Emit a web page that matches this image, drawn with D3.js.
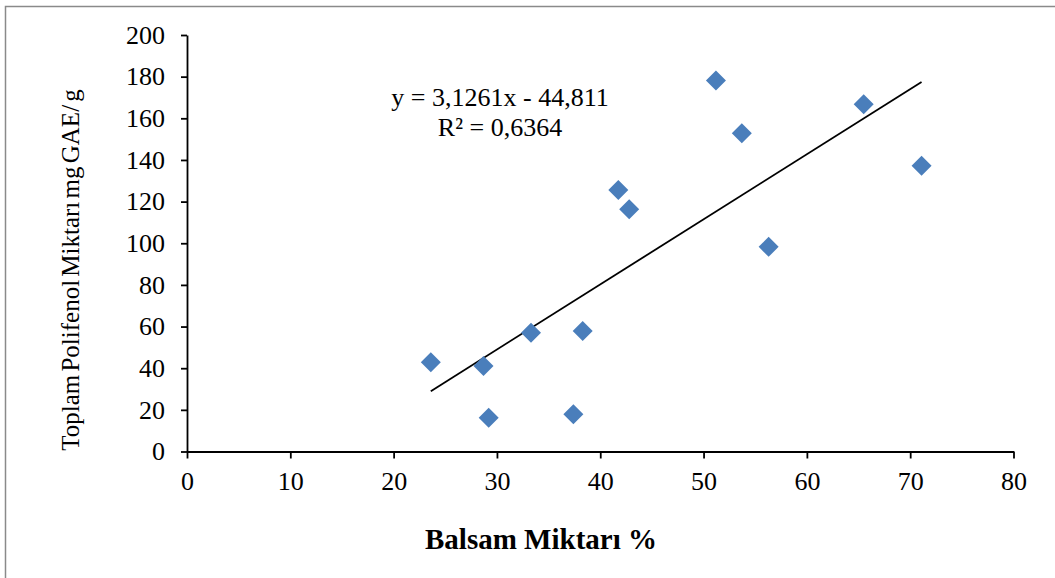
<!DOCTYPE html>
<html>
<head>
<meta charset="utf-8">
<script src="https://cdn.jsdelivr.net/npm/d3@7/dist/d3.min.js"></script>
<style>
  html, body { margin: 0; padding: 0; background: #fff; }
  svg { display: block; font-family: "Liberation Serif", "Times New Roman", serif; }
</style>
</head>
<body>
<svg id="chart" width="1055" height="578"></svg>
<script>
// Balsam amount (%) against total polyphenol content (mg GAE/g)
const balsam = [23.6, 28.7, 29.2, 33.3, 37.4, 38.3, 41.75, 42.8, 51.2, 53.7, 56.3, 65.5, 71.1];
const polifenol = [42.8, 41.1, 16.2, 57.0, 17.9, 57.9, 125.6, 116.3, 178.1, 152.8, 98.3, 166.7, 137.2];

// Linear trend reported on the chart
const slope = 3.1261;
const intercept = -44.811;
const equationLines = ["y = 3,1261x - 44,811", "R² = 0,6364"];

const xTicks = [0, 10, 20, 30, 40, 50, 60, 70, 80];
const yTicks = [0, 20, 40, 60, 80, 100, 120, 140, 160, 180, 200];

const xTitle = "Balsam Miktarı %";
const yTitle = "Toplam Polifenol Miktarı mg GAE/ g";

const svg = d3.select("#chart");

// Chart area frame
svg.append("rect")
  .attr("x", 5.5).attr("y", 6.5)
  .attr("width", 1200).attr("height", 800)
  .attr("fill", "none")
  .attr("stroke", "#8a8a8a")
  .attr("stroke-width", 1.5);

const x = d3.scaleLinear().domain([0, 80]).range([187, 1013.5]);
const y = d3.scaleLinear().domain([0, 200]).range([451.5, 35]);

// Axes
const xAxis = svg.append("g")
  .attr("transform", `translate(0,${y(0)})`)
  .call(d3.axisBottom(x).tickValues(xTicks).tickSize(7).tickSizeOuter(0).tickPadding(12));

const yAxis = svg.append("g")
  .attr("transform", `translate(${x(0)},0)`)
  .call(d3.axisLeft(y).tickValues(yTicks).tickSize(6).tickSizeOuter(0).tickPadding(16));

[xAxis, yAxis].forEach(g => {
  g.selectAll(".domain, .tick line").attr("stroke", "#000").attr("stroke-width", 1.8);
  g.selectAll(".tick text")
    .attr("fill", "#000")
    .style("font-family", '"Liberation Serif", "Times New Roman", serif')
    .style("font-size", "26px");
});
xAxis.selectAll(".tick text").attr("dy", "0.75em");

// Trend line across the range of the data
const xMin = d3.min(balsam), xMax = d3.max(balsam);
svg.append("line")
  .attr("x1", x(xMin)).attr("y1", y(slope * xMin + intercept))
  .attr("x2", x(xMax)).attr("y2", y(slope * xMax + intercept))
  .attr("stroke", "#000")
  .attr("stroke-width", 1.8);

// Diamond markers
const diamond = d3.symbol().type(d3.symbolSquare).size(200);
svg.append("g").selectAll("path")
  .data(balsam.map((v, i) => [v, polifenol[i]]))
  .join("path")
  .attr("d", diamond)
  .attr("transform", d => `translate(${x(d[0])},${y(d[1])}) rotate(45)`)
  .attr("fill", "#4a7ebb");

// Regression equation
svg.append("g").selectAll("text")
  .data(equationLines)
  .join("text")
  .attr("x", 500)
  .attr("y", (d, i) => 106 + i * 30)
  .attr("text-anchor", "middle")
  .style("font-size", "26px")
  .attr("fill", "#000")
  .text(d => d);

// Axis titles
svg.append("text")
  .attr("x", 541).attr("y", 549)
  .attr("text-anchor", "middle")
  .style("font-size", "29px")
  .style("font-weight", "bold")
  .attr("fill", "#000")
  .text(xTitle);

svg.append("text")
  .attr("transform", "translate(79,270) rotate(-90)")
  .attr("text-anchor", "middle")
  .style("font-size", "25px")
  .style("word-spacing", "-3px")
  .attr("fill", "#000")
  .text(yTitle);
</script>
</body>
</html>
